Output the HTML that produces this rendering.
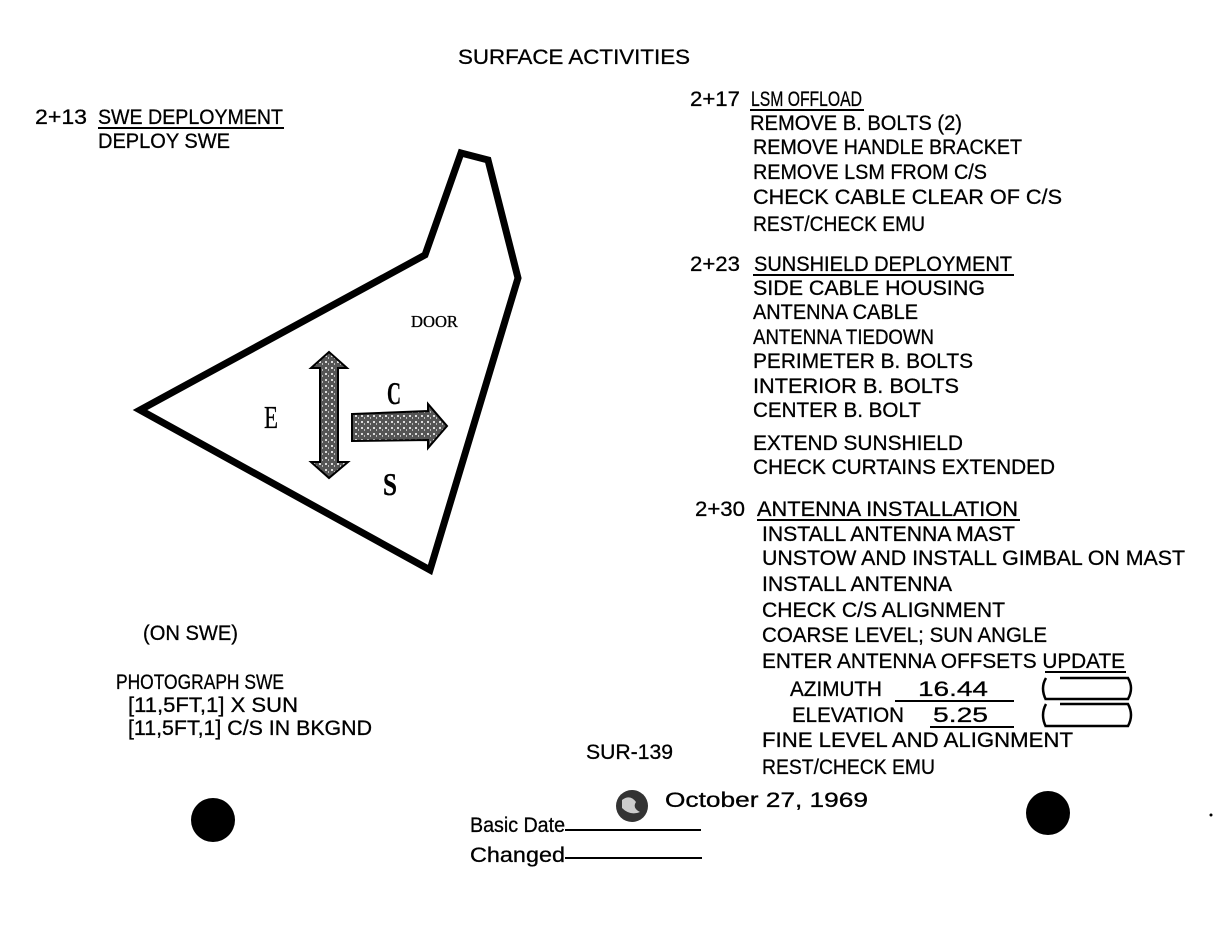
<!DOCTYPE html>
<html><head><meta charset="utf-8"><style>
html,body{margin:0;padding:0;background:#fff;}
svg{display:block}
text{font-family:"Liberation Sans",sans-serif;font-size:21px;fill:#000;stroke:#000;stroke-width:0.3px;}
</style></head><body>
<svg width="1227" height="930" viewBox="0 0 1227 930" xmlns="http://www.w3.org/2000/svg">
<defs>
<pattern id="spk" width="6" height="6" patternUnits="userSpaceOnUse">
<rect width="6" height="6" fill="#555"/>
<rect x="1" y="1" width="2" height="2" fill="#ddd"/>
<rect x="4" y="3" width="1" height="2" fill="#bbb"/>
</pattern>
</defs>
<g>
<text x="458" y="64" textLength="232" lengthAdjust="spacingAndGlyphs">SURFACE ACTIVITIES</text>

<text x="35" y="124" textLength="52" lengthAdjust="spacingAndGlyphs">2+13</text>
<text x="98" y="124" textLength="185" lengthAdjust="spacingAndGlyphs">SWE DEPLOYMENT</text>
<line x1="98" y1="128" x2="284" y2="128" stroke="#000" stroke-width="2"/>
<text x="98" y="148" textLength="132" lengthAdjust="spacingAndGlyphs">DEPLOY SWE</text>

<text x="690" y="106" textLength="50" lengthAdjust="spacingAndGlyphs">2+17</text>
<text x="751" y="106" textLength="111" lengthAdjust="spacingAndGlyphs">LSM OFFLOAD</text>
<line x1="750" y1="110" x2="864" y2="110" stroke="#000" stroke-width="2"/>
<text x="750" y="130" textLength="212" lengthAdjust="spacingAndGlyphs">REMOVE B. BOLTS (2)</text>
<text x="753" y="154" textLength="269" lengthAdjust="spacingAndGlyphs">REMOVE HANDLE BRACKET</text>
<text x="753" y="179" textLength="234" lengthAdjust="spacingAndGlyphs">REMOVE LSM FROM C/S</text>
<text x="753" y="204" textLength="309" lengthAdjust="spacingAndGlyphs">CHECK CABLE CLEAR OF C/S</text>
<text x="753" y="231" textLength="172" lengthAdjust="spacingAndGlyphs">REST/CHECK EMU</text>

<text x="690" y="271" textLength="50" lengthAdjust="spacingAndGlyphs">2+23</text>
<text x="754" y="271" textLength="258" lengthAdjust="spacingAndGlyphs">SUNSHIELD DEPLOYMENT</text>
<line x1="753" y1="275" x2="1014" y2="275" stroke="#000" stroke-width="2"/>
<text x="753" y="295" textLength="232" lengthAdjust="spacingAndGlyphs">SIDE CABLE HOUSING</text>
<text x="753" y="319" textLength="165" lengthAdjust="spacingAndGlyphs">ANTENNA CABLE</text>
<text x="753" y="344" textLength="181" lengthAdjust="spacingAndGlyphs">ANTENNA TIEDOWN</text>
<text x="753" y="368" textLength="220" lengthAdjust="spacingAndGlyphs">PERIMETER B. BOLTS</text>
<text x="753" y="393" textLength="206" lengthAdjust="spacingAndGlyphs">INTERIOR B. BOLTS</text>
<text x="753" y="417" textLength="168" lengthAdjust="spacingAndGlyphs">CENTER B. BOLT</text>
<text x="753" y="450" textLength="210" lengthAdjust="spacingAndGlyphs">EXTEND SUNSHIELD</text>
<text x="753" y="474" textLength="302" lengthAdjust="spacingAndGlyphs">CHECK CURTAINS EXTENDED</text>

<text x="695" y="516" textLength="50" lengthAdjust="spacingAndGlyphs">2+30</text>
<text x="757" y="516" textLength="261" lengthAdjust="spacingAndGlyphs">ANTENNA INSTALLATION</text>
<line x1="757" y1="520" x2="1020" y2="520" stroke="#000" stroke-width="2"/>
<text x="762" y="541" textLength="253" lengthAdjust="spacingAndGlyphs">INSTALL ANTENNA MAST</text>
<text x="762" y="565" textLength="423" lengthAdjust="spacingAndGlyphs">UNSTOW AND INSTALL GIMBAL ON MAST</text>
<text x="762" y="591" textLength="190" lengthAdjust="spacingAndGlyphs">INSTALL ANTENNA</text>
<text x="762" y="617" textLength="243" lengthAdjust="spacingAndGlyphs">CHECK C/S ALIGNMENT</text>
<text x="762" y="642" textLength="285" lengthAdjust="spacingAndGlyphs">COARSE LEVEL; SUN ANGLE</text>
<text x="762" y="668" textLength="363" lengthAdjust="spacingAndGlyphs">ENTER ANTENNA OFFSETS UPDATE</text>
<line x1="1045" y1="672" x2="1126" y2="672" stroke="#000" stroke-width="2"/>
<text x="790" y="696" textLength="92" lengthAdjust="spacingAndGlyphs">AZIMUTH</text>
<text x="918" y="696" textLength="70" lengthAdjust="spacingAndGlyphs">16.44</text>
<line x1="895" y1="701" x2="1014" y2="701" stroke="#000" stroke-width="2"/>
<text x="792" y="722" textLength="112" lengthAdjust="spacingAndGlyphs">ELEVATION</text>
<text x="933" y="722" textLength="55" lengthAdjust="spacingAndGlyphs">5.25</text>
<line x1="930" y1="727" x2="1014" y2="727" stroke="#000" stroke-width="2"/>
<path d="M1046 678 Q1040 688 1046 700 M1046 699 L1128 699 Q1134 688 1128 678 L1060 678" fill="none" stroke="#000" stroke-width="2.5"/>
<path d="M1046 704 Q1040 715 1046 727 M1046 726 L1128 726 Q1134 715 1128 704 L1060 704" fill="none" stroke="#000" stroke-width="2.5"/>
<text x="762" y="747" textLength="311" lengthAdjust="spacingAndGlyphs">FINE LEVEL AND ALIGNMENT</text>
<text x="762" y="774" textLength="173" lengthAdjust="spacingAndGlyphs">REST/CHECK EMU</text>

<text x="586" y="759" textLength="87" lengthAdjust="spacingAndGlyphs">SUR-139</text>

<text x="143" y="640" textLength="95" lengthAdjust="spacingAndGlyphs">(ON SWE)</text>
<text x="116" y="689" textLength="168" lengthAdjust="spacingAndGlyphs">PHOTOGRAPH SWE</text>
<text x="128" y="712" textLength="170" lengthAdjust="spacingAndGlyphs">[11,5FT,1] X SUN</text>
<text x="128" y="735" textLength="244" lengthAdjust="spacingAndGlyphs">[11,5FT,1] C/S IN BKGND</text>

<text x="665" y="807" textLength="203" lengthAdjust="spacingAndGlyphs">October 27, 1969</text>
<text x="470" y="832" textLength="95" lengthAdjust="spacingAndGlyphs">Basic Date</text>
<line x1="565" y1="830" x2="701" y2="830" stroke="#000" stroke-width="2"/>
<text x="470" y="862" textLength="95" lengthAdjust="spacingAndGlyphs">Changed</text>
<line x1="565" y1="858" x2="702" y2="858" stroke="#000" stroke-width="2"/>
<circle cx="632" cy="806" r="16" fill="#333"/>
<path d="M622 800 q8 -6 14 2 q-4 6 4 10 q-10 4 -18 -4z" fill="#ccc"/>

<circle cx="213" cy="820" r="22" fill="#000"/>
<circle cx="1048" cy="813" r="22" fill="#000"/>
<circle cx="1211" cy="815" r="1.5" fill="#000"/>

<polygon points="461,153 488,160 518,278 430,570 140,410 425,255" fill="none" stroke="#000" stroke-width="7" stroke-linejoin="miter"/>
<text x="411" y="327" textLength="47" lengthAdjust="spacingAndGlyphs" style="font-family:'Liberation Serif',serif;font-size:17px">DOOR</text>
<path d="M329 352 L347 368 L338 368 L338 462 L348 462 L329 478 L311 462 L320 462 L320 368 L311 368 Z" fill="url(#spk)" stroke="#000" stroke-width="2"/>
<path d="M352 414 L428 411 L428 404 L447 426 L428 448 L428 440 L352 441 Z" fill="url(#spk)" stroke="#000" stroke-width="2"/>
<text x="264" y="428" textLength="14" lengthAdjust="spacingAndGlyphs" style="font-family:'Liberation Serif',serif;font-size:32px">E</text>
<text x="387" y="404" textLength="14" lengthAdjust="spacingAndGlyphs" style="font-family:'Liberation Serif',serif;font-size:32px;font-weight:bold">C</text>
<text x="383" y="495" textLength="14" lengthAdjust="spacingAndGlyphs" style="font-family:'Liberation Serif',serif;font-size:32px;font-weight:bold">S</text>
</g>
</svg>
</body></html>
